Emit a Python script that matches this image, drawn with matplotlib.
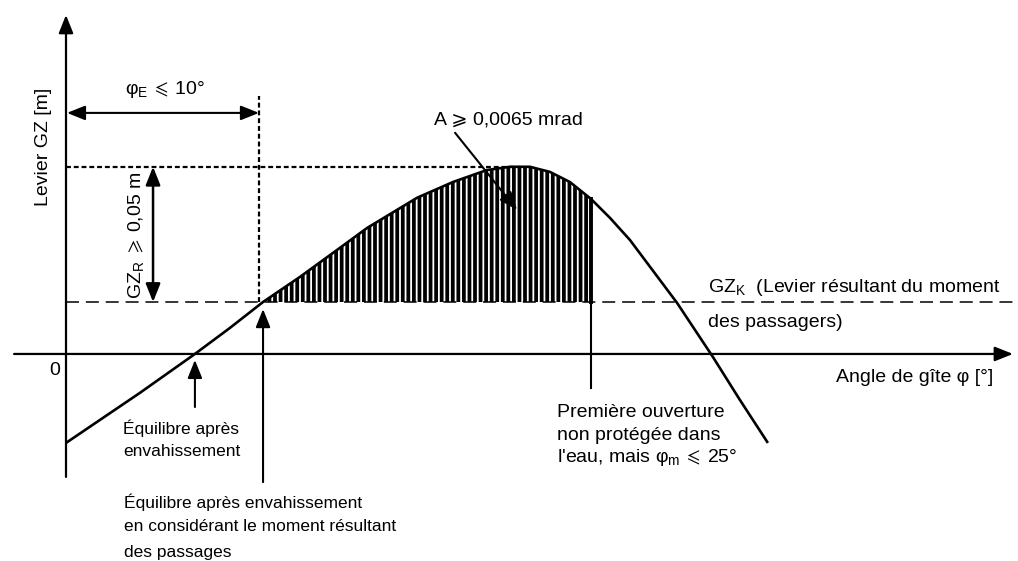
import numpy as np
import matplotlib
matplotlib.use('Agg')
import matplotlib.pyplot as plt

plt.rcParams['font.family'] = ['Liberation Sans', 'DejaVu Sans']
plt.rcParams['mathtext.fontset'] = 'custom'
plt.rcParams['mathtext.rm'] = 'Liberation Sans'
plt.rcParams['mathtext.fallback'] = 'stixsans'
plt.rcParams['hatch.linewidth'] = 2.7

# Righting lever curve (heel angle in deg, lever in m)
phi = np.array([0.0, 3.83, 6.68, 8.50, 10.21, 12.12, 14.04, 15.60, 18.19, 20.05,
                21.81, 23.01, 24.04, 25.08, 26.11, 27.20, 28.19, 29.22, 31.66,
                33.52, 34.92, 36.37])
gz = np.array([-0.0327, -0.0143, 0.0, 0.0096, 0.0191, 0.0283, 0.0382, 0.0463,
               0.0574, 0.0632, 0.0676, 0.0688, 0.0688, 0.0669, 0.0632, 0.0570,
               0.0500, 0.0419, 0.0188, -0.0011, -0.0169, -0.0327])

gz_k = 0.0191      # passenger heeling lever
gz_peak = 0.0688   # max lever
phi_e = 10.0       # equilibrium limit
phi_k = 10.21      # equilibrium incl. passenger moment
phi_eq = 6.68      # equilibrium after flooding
phi_m = 27.2       # first unprotected opening
phi_peak = 23.5

fig = plt.figure(figsize=(10.18, 5.61), dpi=100)
ax = fig.add_axes([0, 0, 1, 1])
ax.set_xlim(-3.42, 49.33)
ax.set_ylim(-0.0761, 0.1301)
ax.axis('off')

k = 'black'
head = '-|>,head_length=0.55,head_width=0.22'
dhead = '<|-|>,head_length=0.55,head_width=0.22'


def arrow(x0, y0, x1, y1, style=head, lw=1.5):
    ax.annotate('', xy=(x1, y1), xytext=(x0, y0),
                arrowprops=dict(arrowstyle=style, color=k, lw=lw,
                                shrinkA=0, shrinkB=0, mutation_scale=20))


# axes
arrow(0, -0.0452, 0, 0.1246, lw=1.6)
arrow(-2.69, 0, 49.07, 0, lw=1.6)

# passenger lever line
ax.plot([0, 49.07], [gz_k, gz_k], color=k, lw=1.1, dashes=(8.5, 4.5))

# dotted guides
ax.plot([0, phi_peak], [gz_peak, gz_peak], color=k, lw=1.6, dashes=(2.2, 1.3))
ax.plot([phi_e, phi_e], [gz_k, 0.0949], color=k, lw=1.6, dashes=(2.2, 1.3))

# hatched area
mask = (phi >= phi_k) & (phi <= phi_m)
ax.fill_between(phi, gz_k, gz, where=mask, facecolor='none', edgecolor=k,
                hatch='|||', linewidth=0)

# GZ curve
ax.plot(phi, gz, color=k, lw=1.9, solid_joinstyle='round', solid_capstyle='butt')

# opening marker
ax.plot([phi_m, phi_m], [-0.0125, gz_k], color=k, lw=1.5)
ax.plot([phi_m, phi_m], [gz_k, gz[phi == phi_m][0]], color=k, lw=2.8)

# dimension arrows
arrow(0.05, 0.0886, phi_e, 0.0886, style=dhead, lw=1.5)
arrow(4.51, gz_k, 4.51, gz_peak, style=dhead, lw=1.8)

# pointer arrows
arrow(20.16, 0.0813, 23.37, 0.0529, lw=1.5)
arrow(phi_eq, -0.0195, phi_eq, -0.0022, lw=1.5)
arrow(phi_k, -0.0471, phi_k, 0.0165, lw=1.5)

fs = 14
ax.text(-1.19, 0.0761, 'Levier GZ [m]', rotation=90, ha='center', va='center', fontsize=fs)
ax.text(-0.57, -0.0059, '0', ha='center', va='center', fontsize=fs)
ax.text(5.13, 0.0971, r'φ$_\mathregular{E}\,\leqslant\,$10°', ha='center', va='center',
        fontsize=fs)
ax.text(3.68, 0.0435, r'GZ$_\mathregular{R}\;\geqslant\,$0,05 m', rotation=90,
        ha='center', va='center', fontsize=fs)
ax.text(22.9, 0.086, 'A ⩾ 0,0065 mrad', ha='center', va='center', fontsize=fs)
ax.text(33.26, 0.0243, r'GZ$_\mathregular{K}$  (Levier résultant du moment',
        ha='left', va='center', fontsize=fs)
ax.text(33.26, 0.0114, 'des passagers)', ha='left', va='center', fontsize=fs)
ax.text(48.03, -0.0088, 'Angle de gîte φ [°]', ha='right', va='center', fontsize=fs)

open_lines = ['Première ouverture', 'non protégée dans',
              r"l'eau, mais φ$_\mathregular{m}\,\leqslant\,$25°"]
open_y = [-0.0217, -0.0298, -0.0379]
for s, y in zip(open_lines, open_y):
    ax.text(25.44, y, s, ha='left', va='center', fontsize=fs)

eq_lines = ['Équilibre après', 'envahissement']
eq_y = [-0.0272, -0.0360]
for s, y in zip(eq_lines, eq_y):
    ax.text(2.95, y, s, ha='left', va='center', fontsize=12.5)

pax_lines = ['Équilibre après envahissement',
             'en considérant le moment résultant',
             'des passages']
pax_y = [-0.0544, -0.0636, -0.0728]
for s, y in zip(pax_lines, pax_y):
    ax.text(3.0, y, s, ha='left', va='center', fontsize=12.5)

fig.savefig('out.png', dpi=100)
